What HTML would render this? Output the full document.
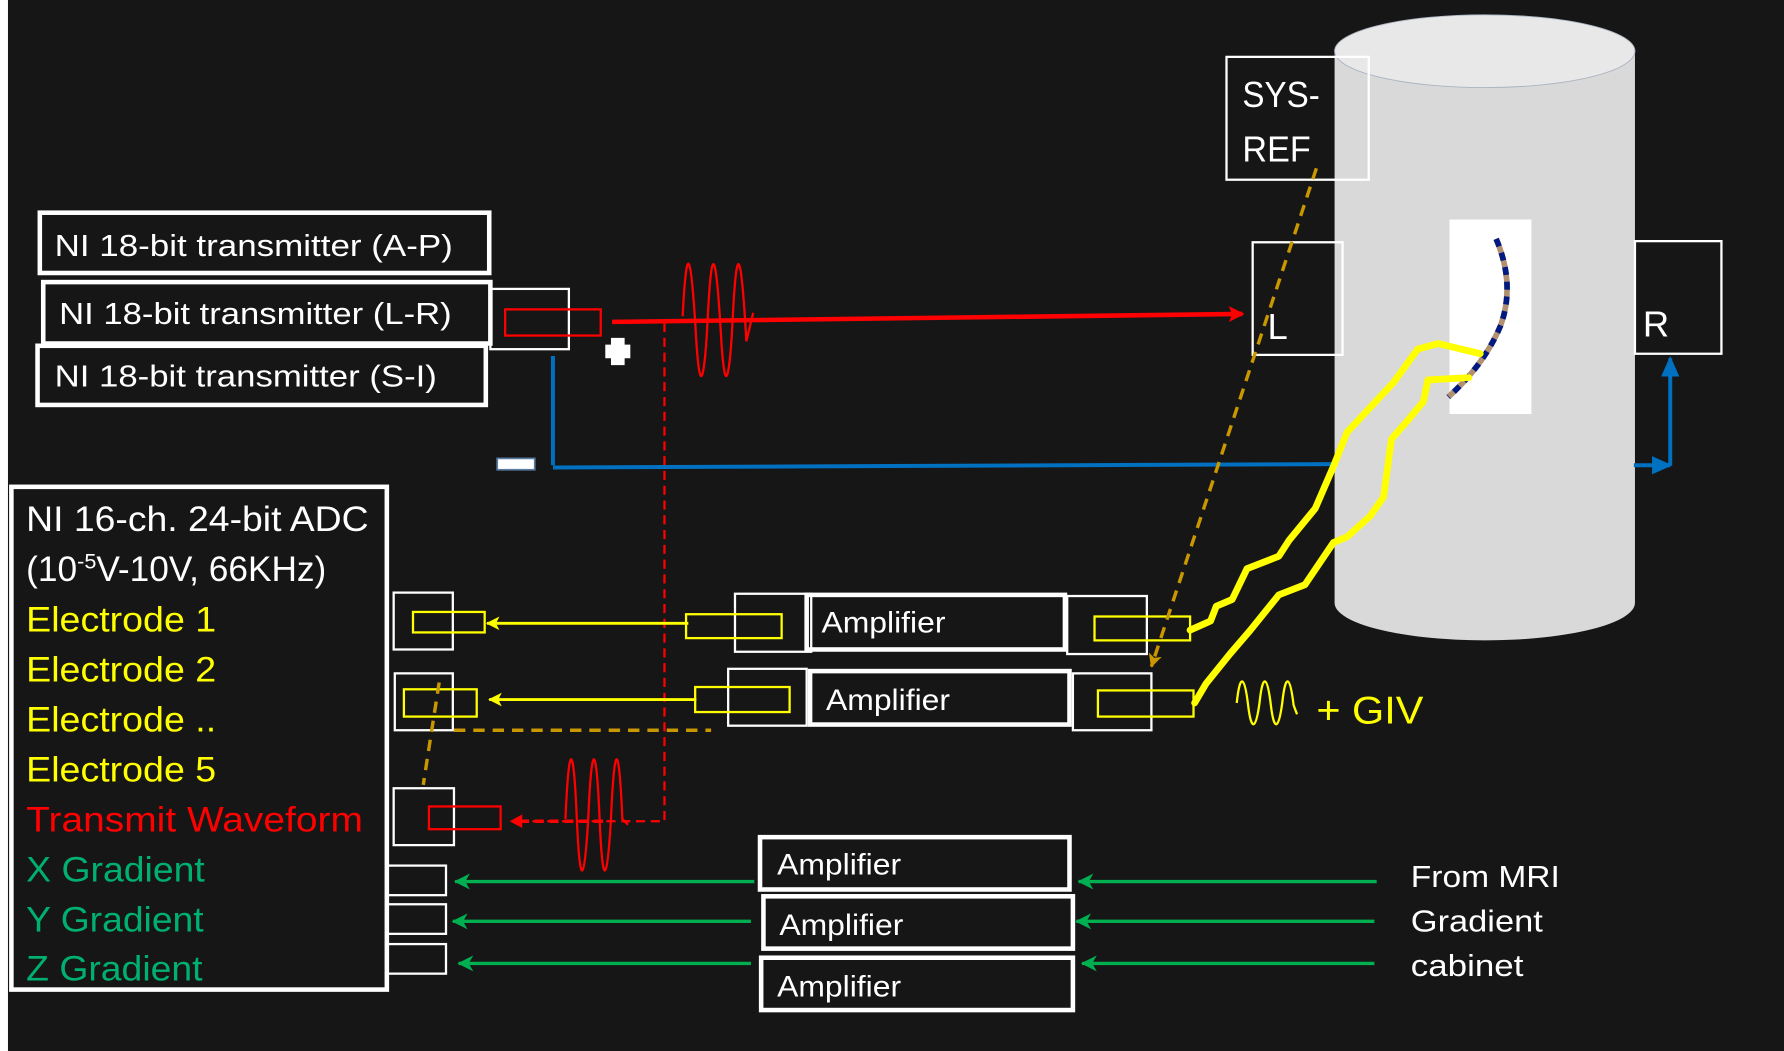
<!DOCTYPE html>
<html><head><meta charset="utf-8"><style>
html,body{margin:0;padding:0;background:#161616;}
svg{display:block;}
text{font-family:"Liberation Sans",sans-serif;}
</style></head><body>
<svg width="1784" height="1051" viewBox="0 0 1568 924" preserveAspectRatio="none" xmlns="http://www.w3.org/2000/svg">
<defs>
<marker id="ar2" markerWidth="14" markerHeight="14" refX="12" refY="7" orient="auto" markerUnits="userSpaceOnUse"><path d="M0,0 L14,7 L0,14 L3,7Z" fill="#ff0000"/></marker>
<marker id="ay" markerWidth="12" markerHeight="12" refX="11" refY="6" orient="auto" markerUnits="userSpaceOnUse"><path d="M0,0 L12,6 L0,12 L3,6Z" fill="#ffff00"/></marker>
<marker id="ag" markerWidth="14" markerHeight="14" refX="13" refY="7" orient="auto" markerUnits="userSpaceOnUse"><path d="M0,0 L14,7 L0,14 L4,7Z" fill="#00b050"/></marker>
<marker id="ab" markerWidth="18" markerHeight="18" refX="16" refY="9" orient="auto" markerUnits="userSpaceOnUse"><path d="M0,1 L18,9 L0,17 Z" fill="#0070c0"/></marker>
<marker id="ao" markerWidth="12" markerHeight="12" refX="11" refY="6" orient="auto" markerUnits="userSpaceOnUse"><path d="M0,0 L12,6 L0,12 L3,6Z" fill="#c99700"/></marker>
</defs>
<rect x="0" y="0" width="1568" height="924" fill="#161616"/>
<rect x="0" y="0" width="7" height="924" fill="#ffffff"/>

<path d="M1173,45 L1173,530 A132,33 0 0 0 1437,530 L1437,45 Z" fill="#d9d9d9"/>
<ellipse cx="1305" cy="45" rx="132" ry="32" fill="#e8e8e8" stroke="#aab4c0" stroke-width="0.8"/>
<rect x="1274" y="193" width="72" height="171" fill="#ffffff"/>
<path d="M1315,210 Q1332,250 1319,286 Q1305,320 1273,349" fill="none" stroke="#b09070" stroke-width="5"/>
<path d="M1315,210 Q1332,250 1319,286 Q1305,320 1273,349" fill="none" stroke="#001a80" stroke-width="5" stroke-dasharray="7,6"/>

<g fill="none" stroke="#fff" stroke-width="4">
<rect x="35" y="187" width="395" height="53"/>
<rect x="38" y="248" width="393" height="54"/>
<rect x="33" y="304" width="394" height="52"/>
</g>
<g fill="#fff" font-size="27">
<text x="48" y="225" textLength="350" lengthAdjust="spacingAndGlyphs">NI 18-bit transmitter (A-P)</text>
<text x="52" y="285" textLength="345" lengthAdjust="spacingAndGlyphs">NI 18-bit transmitter (L-R)</text>
<text x="48" y="340" textLength="336" lengthAdjust="spacingAndGlyphs">NI 18-bit transmitter (S-I)</text>
</g>
<rect x="431" y="254" width="69" height="53" fill="none" stroke="#fff" stroke-width="2"/>
<rect x="444" y="272" width="84" height="23" fill="none" stroke="#ff0000" stroke-width="2"/>
<path d="M537,297 h12 v6 h5 v12 h-5 v6 h-12 v-6 h-5 v-12 h5z" fill="#fff"/>

<line x1="538" y1="283" x2="1092" y2="276" stroke="#ff0000" stroke-width="4" marker-end="url(#ar2)"/>
<path d="M600,278 C604,200 608,230 612,300 C616,360 620,320 622,280 C626,200 630,230 634,300 C638,360 642,320 644,280 C648,200 652,230 656,300 L662,275" fill="none" stroke="#ff0000" stroke-width="2"/>
<path d="M584,284 L584,722 L452,722" fill="none" stroke="#ff0000" stroke-width="2" stroke-dasharray="8,5"/>
<path d="M448,722 l11,-6 v12z" fill="#ff0000"/>
<line x1="530" y1="722" x2="455" y2="722" stroke="#ff0000" stroke-width="3" stroke-dasharray="8,5"/>
<path d="M497,720 C500,650 504,650 507,720 C510,790 514,770 517,720 C520,650 524,650 527,720 C530,790 534,770 537,720 C540,650 544,650 547,720 L552,725" fill="none" stroke="#ff0000" stroke-width="2"/>

<path d="M486,313 L486,409" stroke="#0070c0" stroke-width="3.5" fill="none"/>
<path d="M486,411 L1175,408" stroke="#0070c0" stroke-width="3.5" fill="none"/>
<path d="M1436,409 L1468,409" stroke="#0070c0" stroke-width="3.5" fill="none" marker-end="url(#ab)"/>
<path d="M1468,409 L1468,315" stroke="#0070c0" stroke-width="3.5" fill="none" marker-end="url(#ab)"/>
<rect x="437" y="403" width="33" height="10" fill="#fff" stroke="#5a7aa0" stroke-width="1.5"/>

<rect x="1078" y="50" width="125" height="108" fill="none" stroke="#fff" stroke-width="2"/>
<text x="1092" y="94" fill="#fff" font-size="32" textLength="68" lengthAdjust="spacingAndGlyphs">SYS-</text>
<text x="1092" y="142" fill="#fff" font-size="32" textLength="60" lengthAdjust="spacingAndGlyphs">REF</text>
<rect x="1101" y="213" width="79" height="99" fill="none" stroke="#fff" stroke-width="2"/>
<text x="1114" y="298" fill="#fff" font-size="32">L</text>
<rect x="1437" y="212" width="76" height="99" fill="none" stroke="#fff" stroke-width="2"/>
<text x="1444" y="296" fill="#fff" font-size="32">R</text>

<rect x="10" y="428" width="330" height="442" fill="none" stroke="#fff" stroke-width="4"/>
<g font-size="31">
<text x="23" y="467" fill="#fff" textLength="301" lengthAdjust="spacingAndGlyphs">NI 16-ch. 24-bit ADC</text>
<text x="23" y="511" fill="#fff">(10<tspan font-size="19" dy="-11">-5</tspan><tspan dy="11">V-10V, 66KHz)</tspan></text>
<text x="23" y="555" fill="#ffff00" textLength="167" lengthAdjust="spacingAndGlyphs">Electrode 1</text>
<text x="23" y="599" fill="#ffff00" textLength="167" lengthAdjust="spacingAndGlyphs">Electrode 2</text>
<text x="23" y="643" fill="#ffff00" textLength="167" lengthAdjust="spacingAndGlyphs">Electrode ..</text>
<text x="23" y="687" fill="#ffff00" textLength="167" lengthAdjust="spacingAndGlyphs">Electrode 5</text>
<text x="23" y="731" fill="#ff0000" textLength="296" lengthAdjust="spacingAndGlyphs">Transmit Waveform</text>
<text x="23" y="775" fill="#00b070" textLength="157" lengthAdjust="spacingAndGlyphs">X Gradient</text>
<text x="23" y="819" fill="#00b070" textLength="156" lengthAdjust="spacingAndGlyphs">Y Gradient</text>
<text x="23" y="862" fill="#00b070" textLength="155" lengthAdjust="spacingAndGlyphs">Z Gradient</text>
</g>

<g fill="none" stroke="#fff" stroke-width="2">
<rect x="346" y="521" width="52" height="50"/>
<rect x="347" y="592" width="51" height="50"/>
<rect x="346" y="693" width="53" height="50"/>
<rect x="340" y="761" width="52" height="26"/>
<rect x="340" y="795" width="52" height="26"/>
<rect x="340" y="830" width="52" height="26"/>
</g>
<rect x="363" y="538" width="63" height="18" fill="none" stroke="#ffff00" stroke-width="2"/>
<rect x="355" y="606" width="64" height="24" fill="none" stroke="#ffff00" stroke-width="2"/>
<rect x="377" y="709" width="63" height="20" fill="none" stroke="#ff0000" stroke-width="2"/>

<line x1="605" y1="548" x2="428" y2="548" stroke="#ffff00" stroke-width="2.5" marker-end="url(#ay)"/>
<line x1="612" y1="615" x2="430" y2="615" stroke="#ffff00" stroke-width="2.5" marker-end="url(#ay)"/>

<g fill="none" stroke="#fff" stroke-width="2">
<rect x="646" y="522" width="67" height="51"/>
<rect x="938" y="524" width="70" height="51"/>
<rect x="640" y="588" width="69" height="50"/>
<rect x="943" y="592" width="69" height="50"/>
</g>
<g fill="none" stroke="#fff" stroke-width="4">
<rect x="709" y="523" width="227" height="48"/>
<rect x="712" y="590" width="228" height="47"/>
</g>
<rect x="603" y="540" width="84" height="21" fill="none" stroke="#ffff00" stroke-width="2"/>
<rect x="962" y="542" width="84" height="21" fill="none" stroke="#ffff00" stroke-width="2"/>
<rect x="611" y="604" width="83" height="22" fill="none" stroke="#ffff00" stroke-width="2"/>
<rect x="965" y="607" width="84" height="23" fill="none" stroke="#ffff00" stroke-width="2"/>
<g fill="#fff" font-size="26">
<text x="722" y="556" textLength="109" lengthAdjust="spacingAndGlyphs">Amplifier</text>
<text x="726" y="624" textLength="109" lengthAdjust="spacingAndGlyphs">Amplifier</text>
<text x="683" y="769" textLength="109" lengthAdjust="spacingAndGlyphs">Amplifier</text>
<text x="685" y="822" textLength="109" lengthAdjust="spacingAndGlyphs">Amplifier</text>
<text x="683" y="876" textLength="109" lengthAdjust="spacingAndGlyphs">Amplifier</text>
</g>

<g fill="none" stroke="#fff" stroke-width="4">
<rect x="668" y="736" width="272" height="46"/>
<rect x="671" y="788" width="272" height="46"/>
<rect x="669" y="842" width="274" height="46"/>
</g>
<g stroke="#00b050" stroke-width="3">
<line x1="663" y1="775" x2="400" y2="775" marker-end="url(#ag)"/>
<line x1="660" y1="810" x2="398" y2="810" marker-end="url(#ag)"/>
<line x1="660" y1="847" x2="403" y2="847" marker-end="url(#ag)"/>
<line x1="1210" y1="775" x2="948" y2="775" marker-end="url(#ag)"/>
<line x1="1208" y1="810" x2="946" y2="810" marker-end="url(#ag)"/>
<line x1="1208" y1="847" x2="951" y2="847" marker-end="url(#ag)"/>
</g>
<g fill="#fff" font-size="27">
<text x="1240" y="780" textLength="131" lengthAdjust="spacingAndGlyphs">From MRI</text>
<text x="1240" y="819" textLength="116" lengthAdjust="spacingAndGlyphs">Gradient</text>
<text x="1240" y="858" textLength="99" lengthAdjust="spacingAndGlyphs">cabinet</text>
</g>

<line x1="1157" y1="148" x2="1012" y2="586" stroke="#c99700" stroke-width="3" stroke-dasharray="10,7" marker-end="url(#ao)"/>
<line x1="399" y1="642" x2="625" y2="642" stroke="#c99700" stroke-width="3" stroke-dasharray="10,7"/>
<line x1="386" y1="600" x2="372" y2="690" stroke="#c99700" stroke-width="3" stroke-dasharray="10,7"/>

<path d="M1046,554 L1064,546 L1069,533 L1083,527 L1096,500 L1124,489 L1133,475 L1156,447 L1172,410 L1184,380 L1198,365 L1225,336 L1246,307 L1264,302 L1301,311" fill="none" stroke="#ffff00" stroke-width="6" stroke-linejoin="round" stroke-linecap="round"/>
<path d="M1050,618 L1060,601 L1081,575 L1099,554 L1124,523 L1147,514 L1172,477 L1184,472 L1204,454 L1216,437 L1223,386 L1237,370 L1251,353 L1255,334 L1291,332" fill="none" stroke="#ffff00" stroke-width="6" stroke-linejoin="round" stroke-linecap="round"/>

<path d="M1087,618 C1090,590 1094,595 1097,620 C1100,645 1104,640 1107,618 C1110,590 1114,595 1117,620 C1120,645 1124,640 1127,618 C1130,590 1134,595 1137,620 L1140,628" fill="none" stroke="#ffff00" stroke-width="2"/>
<text x="1157" y="636" fill="#ffff00" font-size="34" textLength="94" lengthAdjust="spacingAndGlyphs">+ GIV</text>
</svg>
</body></html>
